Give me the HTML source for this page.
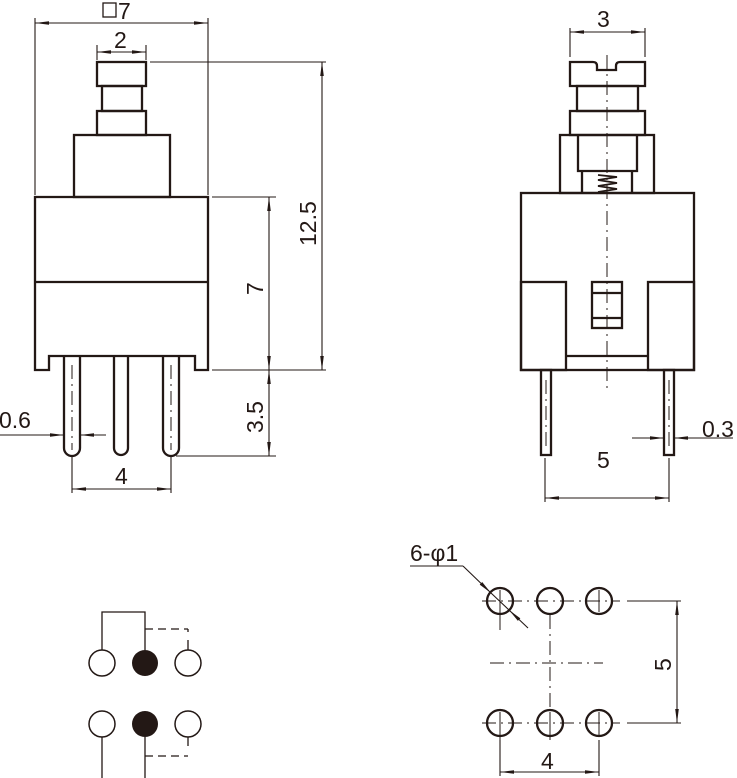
<!DOCTYPE html>
<html><head><meta charset="utf-8"><style>html,body{margin:0;padding:0;background:#fff}svg{display:block}text{font-family:"Liberation Sans",sans-serif;fill:#231815}</style></head><body>
<svg width="737" height="778" viewBox="0 0 737 778" xmlns="http://www.w3.org/2000/svg">
<defs>
<marker id="a" viewBox="0 0 14 6" refX="14" refY="3" markerWidth="14" markerHeight="6" markerUnits="userSpaceOnUse" orient="auto-start-reverse"><path d="M0,1.2 L14,3 L0,4.8z" fill="#231815"/></marker>
</defs>
<g fill="none" stroke="#231815" stroke-width="2.3">
<rect x="97" y="62" width="49" height="24"/>
<rect x="102" y="86" width="40" height="25"/>
<rect x="97" y="111" width="49" height="24"/>
<rect x="74" y="135" width="96" height="62"/>
<path d="M35,197 H208 V370 H195 V356 H49 V370 H35 Z"/>
<line x1="35" y1="282" x2="208" y2="282"/>
<path d="M64,356 V448 A8,8 0 0 0 80,448 V356"/>
<path d="M114,356 V448 A7,7 0 0 0 128,448 V356"/>
<path d="M163,356 V448 A8,8 0 0 0 179,448 V356"/>
<path d="M570,86 V62 H593 Q597,62 597,66 V70 H616 V66 Q616,62 620,62 H645 V86 Z"/>
<rect x="577" y="86" width="61" height="25"/>
<rect x="570" y="111" width="75" height="24"/>
<rect x="560" y="135" width="94" height="58"/>
<path d="M578,135 V171 H637 V135"/>
<path d="M582,171 V193 M632,171 V193"/>
<rect x="521" y="193" width="173" height="177"/>
<rect x="521" y="282" width="45" height="88"/>
<rect x="648" y="282" width="46" height="88"/>
<line x1="566" y1="356" x2="648" y2="356"/>
<rect x="592" y="282" width="30" height="46"/>
<path d="M592,293 H622 M592,318 H622"/>
<rect x="541" y="370" width="10" height="85"/>
<rect x="664" y="370" width="10" height="85"/>
<circle cx="102" cy="663" r="13" stroke-width="1.5"/>
<circle cx="188" cy="663" r="13" stroke-width="1.5"/>
<circle cx="102" cy="724" r="13" stroke-width="1.5"/>
<circle cx="188" cy="724" r="13" stroke-width="1.5"/>
<circle cx="500" cy="601" r="13"/><circle cx="550" cy="601" r="13"/><circle cx="599" cy="601" r="13"/>
<circle cx="500" cy="723" r="13"/><circle cx="550" cy="723" r="13"/><circle cx="599" cy="723" r="13"/>
</g>
<path d="M598,175 L617,177 L598,180 L617,183 L598,186 L617,189 L598,192" fill="none" stroke="#231815" stroke-width="1.8"/>
<circle cx="145" cy="663" r="13" fill="#231815"/>
<circle cx="145" cy="724" r="13" fill="#231815"/>
<g fill="none" stroke="#231815" stroke-width="1.3">
<path d="M102,650 V612 H145 V650"/>
<path d="M145,629 H188" stroke-dasharray="8,5"/>
<path d="M188,629 V632 M188,640 V650"/>
<path d="M102,737 V778 M145,737 V778"/>
<path d="M145,756 H188" stroke-dasharray="8,5"/>
<path d="M188,737 V746"/>
</g>
<g fill="none" stroke="#231815" stroke-width="1" stroke-dasharray="14,5,2,5">
<line x1="72" y1="365" x2="72" y2="450"/>
<line x1="171" y1="365" x2="171" y2="450"/>
<line x1="607" y1="55" x2="607" y2="390"/>
<line x1="546" y1="380" x2="546" y2="450"/>
<line x1="669" y1="380" x2="669" y2="450"/>
<line x1="482" y1="601" x2="620" y2="601"/>
<line x1="482" y1="723" x2="620" y2="723"/>
<line x1="490" y1="663" x2="603" y2="663"/>
<line x1="550" y1="615" x2="550" y2="712"/>
<path d="M500,590 V630 M599,590 V612 M500,712 V740 M550,712 V740 M599,712 V735" stroke-dasharray="none"/>
</g>
<g fill="none" stroke="#231815" stroke-width="1.1">
<path d="M35,18 V195 M208,18 V195"/>
<line x1="35" y1="23" x2="208" y2="23" marker-start="url(#a)" marker-end="url(#a)"/>
<path d="M97,45 V60 M146,45 V60"/>
<line x1="97" y1="52" x2="121" y2="52" marker-start="url(#a)"/><line x1="121" y1="52" x2="146" y2="52" marker-end="url(#a)"/>
<path d="M150,62 H326 M212,370 H326 M212,197 H276 M176,456 H276"/>
<line x1="322" y1="62" x2="322" y2="370" marker-start="url(#a)" marker-end="url(#a)"/>
<line x1="269" y1="197" x2="269" y2="370" marker-start="url(#a)" marker-end="url(#a)"/>
<line x1="269" y1="370" x2="269" y2="456" marker-start="url(#a)" marker-end="url(#a)"/>
<line x1="0" y1="435" x2="64" y2="435" marker-end="url(#a)"/>
<line x1="80" y1="435" x2="106" y2="435" marker-start="url(#a)"/>
<path d="M72,456 V493 M171,456 V493"/>
<line x1="72" y1="489" x2="171" y2="489" marker-start="url(#a)" marker-end="url(#a)"/>
<path d="M570,28 V57 M645,28 V57"/>
<line x1="570" y1="32" x2="645" y2="32" marker-start="url(#a)" marker-end="url(#a)"/>
<path d="M545,458 V502 M669,458 V502"/>
<line x1="545" y1="498" x2="669" y2="498" marker-start="url(#a)" marker-end="url(#a)"/>
<line x1="632" y1="438" x2="664" y2="438" marker-end="url(#a)"/>
<line x1="674" y1="438" x2="733" y2="438" marker-start="url(#a)"/>
<path d="M627,601 H681 M627,723 H681"/>
<line x1="677" y1="601" x2="677" y2="723" marker-start="url(#a)" marker-end="url(#a)"/>
<path d="M500,740 V776 M599,740 V776"/>
<line x1="500" y1="772" x2="599" y2="772" marker-start="url(#a)" marker-end="url(#a)"/>
<path d="M410,566 H463"/>
<line x1="463" y1="566" x2="491" y2="593" marker-end="url(#a)"/>
<line x1="509" y1="610" x2="528" y2="628" marker-start="url(#a)"/>
<line x1="491" y1="593" x2="509" y2="610"/>
</g>
<g font-size="23">
<rect x="103" y="3" width="13" height="14" fill="none" stroke="#231815" stroke-width="1.3"/>
<text x="118" y="19">7</text>
<text x="114" y="48">2</text>
<text x="-1" y="428">0.6</text>
<text x="115" y="484">4</text>
<text x="597" y="27">3</text>
<text x="597" y="468">5</text>
<text x="702" y="437">0.3</text>
<text x="410" y="561">6-φ1</text>
<text x="541" y="769">4</text>
<text transform="translate(316,246) rotate(-90)">12.5</text>
<text transform="translate(263,295) rotate(-90)">7</text>
<text transform="translate(263,433) rotate(-90)">3.5</text>
<text transform="translate(671,671) rotate(-90)">5</text>
</g>
</svg>
</body></html>
